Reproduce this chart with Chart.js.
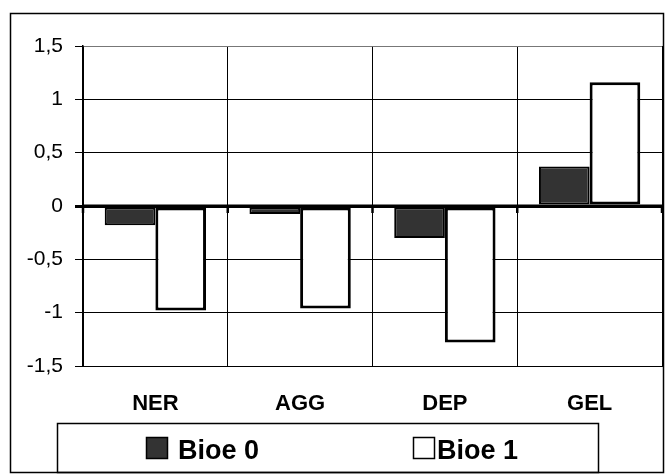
<!DOCTYPE html>
<html>
<head>
<meta charset="utf-8">
<script src="https://cdn.jsdelivr.net/npm/chart.js@4.4.1/dist/chart.umd.min.js"></script>
<style>
  html, body { margin: 0; padding: 0; background: #ffffff; }
  #c { display: block; }
</style>
</head>
<body>
<canvas id="c" width="665" height="474"></canvas>
<script>
const categories = ['NER', 'AGG', 'DEP', 'GEL'];
const bioe0 = [-0.18, -0.075, -0.30, 0.37];
const bioe1 = [-0.98, -0.96, -1.28, 1.16];
const seriesNames = ['Bioe 0', 'Bioe 1'];
const yTicks = [-1.5, -1, -0.5, 0, 0.5, 1, 1.5];

const FONT = "'Liberation Sans', Arial, sans-serif";
Chart.defaults.font.family = FONT;
Chart.defaults.color = '#000000';

const framePlugin = {
  id: 'frame',
  afterDatasetsDraw(chart) {
    const ctx = chart.ctx;
    const y = chart.scales.y;
    const area = chart.chartArea;
    const y0 = y.getPixelForValue(0);
    ctx.save();
    ctx.strokeStyle = '#000000';
    ctx.lineWidth = 3;
    ctx.beginPath();
    ctx.moveTo(area.left, y0);
    ctx.lineTo(area.right, y0);
    ctx.stroke();
    ctx.lineWidth = 2.5;
    const n = categories.length;
    for (let i = 0; i <= n; i++) {
      const px = area.left + (area.right - area.left) * i / n;
      ctx.beginPath();
      ctx.moveTo(px, y0);
      ctx.lineTo(px, y0 + 7);
      ctx.stroke();
    }
    ctx.restore();
  },
  afterDraw(chart) {
    const ctx = chart.ctx;
    ctx.save();
    ctx.strokeStyle = '#000000';
    ctx.lineWidth = 1.5;
    ctx.strokeRect(10.5, 13.5, 653, 459);
    ctx.lineWidth = 1.5;
    ctx.strokeRect(57.5, 423.5, 541, 49);
    const items = [
      { sx: 146, tx: 178 },
      { sx: 413, tx: 437 }
    ];
    chart.data.datasets.forEach((ds, i) => {
      const it = items[i];
      ctx.fillStyle = ds.backgroundColor;
      ctx.fillRect(it.sx, 437, 22, 22);
      ctx.strokeStyle = '#000000';
      ctx.lineWidth = 1.5;
      ctx.strokeRect(it.sx + 0.5, 437.5, 21, 21);
      ctx.fillStyle = '#000000';
      ctx.font = "bold 27px " + FONT;
      ctx.textBaseline = 'alphabetic';
      ctx.textAlign = 'left';
      ctx.fillText(ds.label, it.tx, 459);
    });
    ctx.restore();
  }
};

new Chart(document.getElementById('c'), {
  type: 'bar',
  data: {
    labels: categories,
    datasets: [
      {
        label: seriesNames[0],
        data: bioe0,
        backgroundColor: '#333333',
        borderColor: '#000000',
        borderWidth: 2,
        borderSkipped: false,
        categoryPercentage: 0.7,
        barPercentage: 1.0
      },
      {
        label: seriesNames[1],
        data: bioe1,
        backgroundColor: '#ffffff',
        borderColor: '#000000',
        borderWidth: 3,
        borderSkipped: false,
        categoryPercentage: 0.7,
        barPercentage: 1.0
      }
    ]
  },
  options: {
    responsive: false,
    animation: false,
    devicePixelRatio: 1,
    layout: { padding: { top: 46, right: 3, bottom: 0, left: 0 } },
    plugins: {
      legend: { display: false },
      tooltip: { enabled: false }
    },
    scales: {
      x: {
        grid: {
          offset: true,
          color: '#000000',
          lineWidth: 1,
          drawTicks: false
        },
        border: { display: true, color: '#000000', width: 1 },
        ticks: {
          font: { size: 22, weight: 'bold' },
          color: '#000000',
          padding: 25
        },
        afterFit(scale) { scale.height = 108; }
      },
      y: {
        min: -1.5,
        max: 1.5,
        afterBuildTicks(scale) {
          scale.ticks = yTicks.map(v => ({ value: v }));
        },
        grid: {
          color: (c) => (c.tick && c.tick.value === 1.5) ? '#777777' : '#000000',
          lineWidth: (c) => (c.tick && c.tick.value === 0) ? 3 : 1,
          tickLength: 8,
          tickColor: '#000000'
        },
        border: { display: true, color: '#000000', width: 1.5 },
        ticks: {
          font: { size: 21 },
          color: '#000000',
          padding: 12,
          callback: (v) => String(v).replace('.', ',')
        },
        afterFit(scale) { scale.width = 83; }
      }
    }
  },
  plugins: [framePlugin]
});
</script>
</body>
</html>
